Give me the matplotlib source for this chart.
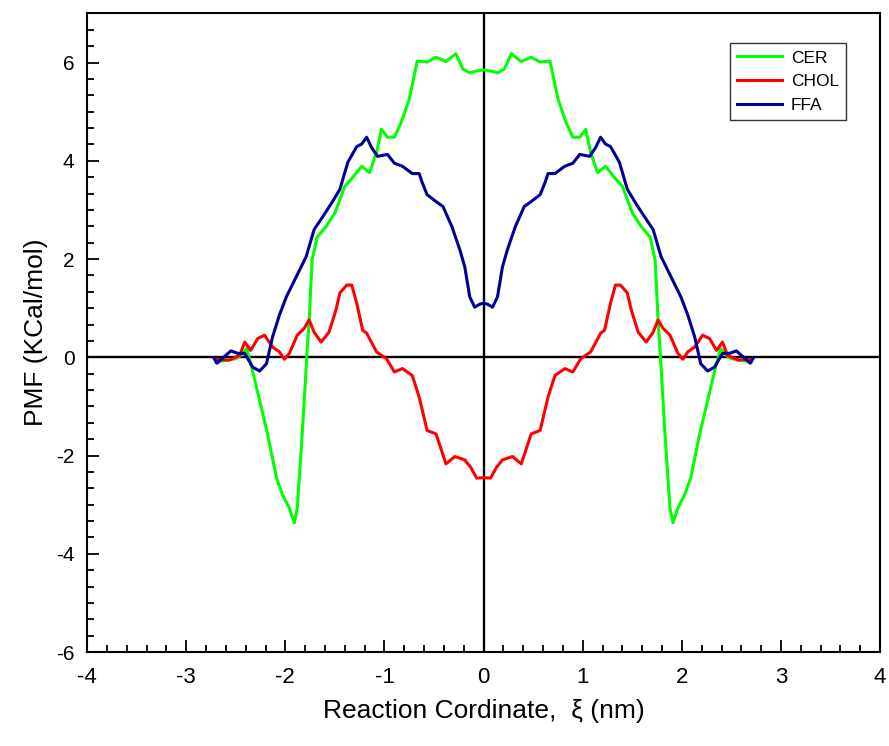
import numpy as np
import matplotlib.pyplot as plt
from matplotlib.ticker import MultipleLocator

# PMF profiles (the profiles are symmetric about xi = 0)
cer_x = [-2.70, -2.60, -2.50, -2.44, -2.39, -2.34, -2.26, -2.18, -2.09, -2.03,
         -1.96, -1.91, -1.88, -1.83, -1.78, -1.76, -1.73, -1.68, -1.59, -1.50,
         -1.40, -1.32, -1.23, -1.15, -1.08, -1.03, -0.97, -0.90, -0.83, -0.75,
         -0.67, -0.57, -0.48, -0.38, -0.28, -0.21, -0.14, -0.07, 0.0]
cer_y = [-0.10, -0.06, -0.03, 0.05, 0.18, -0.20, -0.88, -1.56, -2.45, -2.79,
         -3.07, -3.37, -3.07, -1.56, 0.14, 0.76, 1.98, 2.45, 2.66, 2.94,
         3.48, 3.66, 3.89, 3.76, 4.17, 4.64, 4.48, 4.48, 4.79, 5.26,
         6.03, 6.01, 6.11, 6.02, 6.18, 5.87, 5.79, 5.83, 5.85]

chol_x = [-2.69, -2.57, -2.46, -2.41, -2.35, -2.28, -2.21, -2.13, -2.06, -2.01,
          -1.96, -1.88, -1.81, -1.76, -1.71, -1.64, -1.56, -1.49, -1.45, -1.38,
          -1.33, -1.28, -1.22, -1.18, -1.08, -0.98, -0.90, -0.82, -0.72, -0.65,
          -0.57, -0.48, -0.38, -0.29, -0.19, -0.13, -0.07, 0.0]
chol_y = [-0.04, -0.06, 0.04, 0.31, 0.14, 0.38, 0.45, 0.21, 0.11, -0.04,
          0.08, 0.45, 0.59, 0.76, 0.51, 0.31, 0.51, 0.96, 1.31, 1.47,
          1.47, 1.10, 0.55, 0.49, 0.11, -0.03, -0.30, -0.23, -0.37, -0.81,
          -1.49, -1.56, -2.17, -2.02, -2.09, -2.24, -2.46, -2.45]

ffa_x = [-2.72, -2.69, -2.55, -2.48, -2.41, -2.33, -2.26, -2.19, -2.13, -2.06,
         -1.99, -1.89, -1.79, -1.71, -1.63, -1.53, -1.45, -1.37, -1.28, -1.23,
         -1.18, -1.13, -1.07, -0.97, -0.90, -0.82, -0.72, -0.65, -0.62, -0.57,
         -0.48, -0.41, -0.32, -0.24, -0.19, -0.14, -0.09, -0.04, 0.0]
ffa_y = [-0.02, -0.12, 0.13, 0.08, 0.08, -0.20, -0.28, -0.13, 0.41, 0.86,
         1.23, 1.64, 2.05, 2.60, 2.84, 3.15, 3.42, 3.97, 4.29, 4.34,
         4.48, 4.27, 4.09, 4.13, 3.95, 3.89, 3.74, 3.74, 3.56, 3.31,
         3.17, 3.07, 2.66, 2.19, 1.84, 1.23, 1.02, 1.08, 1.10]


def mirror(x, y):
    """Build the full symmetric profile from the left half."""
    x = np.asarray(x)
    y = np.asarray(y)
    return np.concatenate([x, -x[-2::-1]]), np.concatenate([y, y[-2::-1]])


plt.rcParams['font.family'] = ['Liberation Sans', 'DejaVu Sans']
plt.rcParams['axes.unicode_minus'] = False

fig = plt.figure(figsize=(8.89, 7.46), dpi=100)
ax = fig.add_axes([0.098, 0.126, 0.892, 0.856])

ax.axhline(0, color='black', linewidth=1.7, zorder=1)
ax.axvline(0, color='black', linewidth=1.7, zorder=1)

series = [("CER", cer_x, cer_y, '#00ff00'),
          ("CHOL", chol_x, chol_y, '#ff0000'),
          ("FFA", ffa_x, ffa_y, '#000099')]
for name, x, y, color in series:
    fx, fy = mirror(x, y)
    ax.plot(fx, fy, color=color, linewidth=2.2, label=name, zorder=2)

ax.set_xlim(-4, 4)
ax.set_ylim(-6, 7)
ax.xaxis.set_major_locator(MultipleLocator(1))
ax.xaxis.set_minor_locator(MultipleLocator(0.2))
ax.yaxis.set_major_locator(MultipleLocator(2))
ax.yaxis.set_minor_locator(MultipleLocator(2 / 6))

ax.tick_params(which='both', direction='in', top=False, right=False, width=1.3)
ax.tick_params(which='major', length=8.5, labelsize=15)
ax.tick_params(which='minor', length=5)
ax.tick_params(axis='x', which='major', labelsize=16, pad=11)
ax.tick_params(axis='y', which='major', pad=9)
for spine in ax.spines.values():
    spine.set_linewidth(1.5)

ax.set_xlabel("Reaction Cordinate,  \u03be (nm)", fontsize=19, labelpad=8)
ax.set_ylabel("PMF (KCal/mol)", fontsize=19, labelpad=6)

leg = ax.legend(loc='upper right', bbox_to_anchor=(0.957, 0.953), fontsize=12.5,
                frameon=True, fancybox=False, handlelength=2.6, borderaxespad=0,
                borderpad=0.4, labelspacing=0.5, handletextpad=0.5)
leg.get_frame().set_edgecolor('black')
leg.get_frame().set_linewidth(1.0)

fig.savefig("out.png", dpi=100)
